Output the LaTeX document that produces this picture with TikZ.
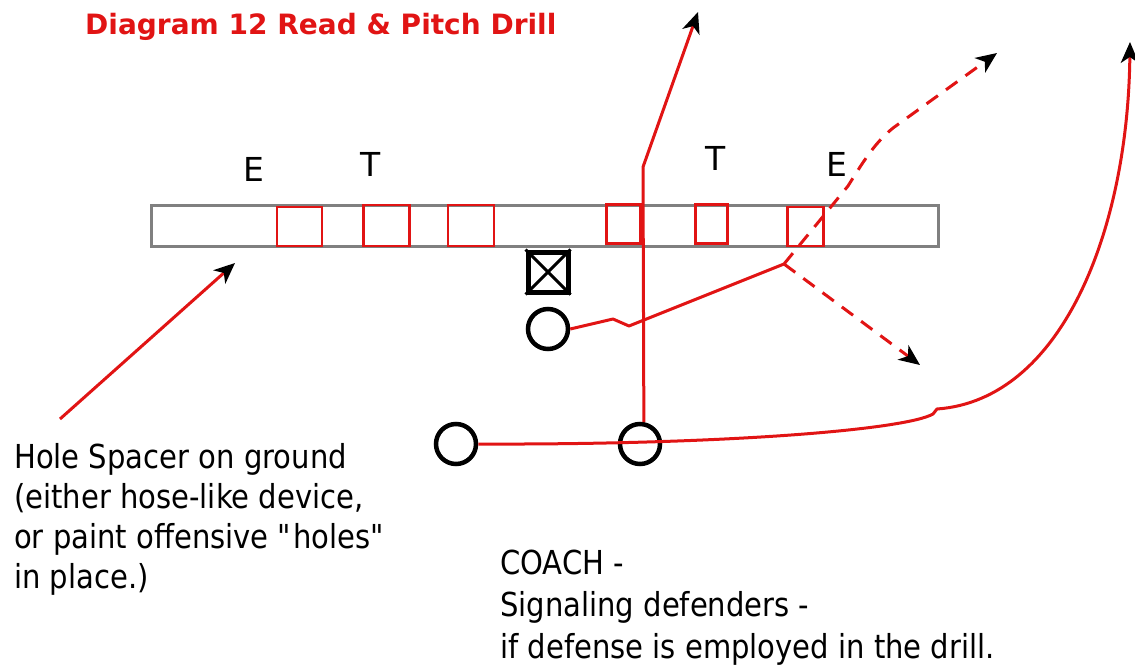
\documentclass[tikz,border=0pt]{standalone}
\usepackage{fontspec}
\setmainfont{DejaVu Sans}
\newfontfamily\notefont[FakeStretch=0.88]{DejaVu Sans}
\usetikzlibrary{arrows.meta}
\definecolor{rd}{RGB}{225,20,20}
\begin{document}
\begin{tikzpicture}[x=1pt,y=-1pt,
  route/.style={draw=rd, line width=3pt, line join=round},
  dashroute/.style={route, dash pattern=on 14pt off 10pt},
  tipped/.style={-{Stealth[black, length=21pt, width=18pt, inset=6pt]}},
  player/.style={circle, draw=black, line width=4.5pt, minimum size=40pt, inner sep=0pt},
  hole/.style={draw=rd, line width=2.8pt, inner sep=0pt, minimum height=39pt},
  lbl/.style={font=\notefont\fontsize{33}{40}\selectfont, inner sep=0pt, anchor=base west},
  ltr/.style={font=\fontsize{33}{40}\selectfont, inner sep=0pt, anchor=base}
]
\useasboundingbox (0,0) rectangle (1135,666);
% title
\node[inner sep=0pt, anchor=base west, text=rd, font=\fontsize{28}{34}\selectfont\bfseries] (title) at (85,35) {Diagram 12 Read \& Pitch Drill};
% hole spacer
\node[draw=gray, line width=3pt, minimum width=787pt, minimum height=41pt, inner sep=0pt] (spacer) at (544.5,225.5) {};
\node[hole, minimum width=45pt] (h1) at (299.5,226.5) {};
\node[hole, minimum width=46pt, minimum height=41pt] (h2) at (386.5,225.5) {};
\node[hole, minimum width=46pt, minimum height=41pt] (h3) at (471,225.5) {};
\node[hole, minimum width=34pt] (h4) at (623.5,224) {};
\node[hole, minimum width=32pt] (h5) at (711.5,224) {};
\node[hole, minimum width=36pt] (h6) at (805.5,226.5) {};
% defender letters
\node[ltr] (e1) at (254,181) {E};
\node[ltr] (t1) at (371,176) {T};
\node[ltr] (t2) at (716,170) {T};
\node[ltr] (e2) at (837,176) {E};
% center
\node[draw=black, line width=5pt, minimum size=40pt, inner sep=0pt] (ctr) at (548,272) {};
\draw[line width=3pt] (ctr.north west) -- (ctr.south east) (ctr.north east) -- (ctr.south west);
% players
\node[player] (c1) at (548,329) {};
\node[player] (c2) at (456,444) {};
\node[player] (c3) at (640,444) {};
% routes
\coordinate (rd1) at (784,264);
\coordinate (upt) at (997,53);
\coordinate (dnt) at (920,365);
\coordinate (vt) at (698,12);
\coordinate (ft) at (1130,42);
\draw[route] (c1.east) -- (613,319) -- (629,326) -- (rd1);
\draw[dashroute, tipped] (rd1) -- (848,186) .. controls (866,157) and (876,142) .. (893,128) -- (upt);
\draw[dashroute, tipped] (rd1) -- (dnt);
\draw[route, tipped] (c3.80) -- (643,167) -- (vt);
\draw[route, tipped] (c2.east) .. controls (720,445) and (905,430) .. (933,414) -- (937,409)
  .. controls (1062,400) and (1128,230) .. (ft);
% hole spacer arrow
\coordinate (hs) at (60,419);
\coordinate (hst) at (235,263);
\draw[route, tipped] (hs) -- (hst);
% notes
\node[lbl] (n1) at (14,468) {Hole Spacer on ground};
\node[lbl] (n2) at (14,508) {(either hose-like device,};
\node[lbl] (n3) at (14,548) {or paint offensive \textquotedbl holes\textquotedbl};
\node[lbl] (n4) at (14,588) {in place.)};
\node[lbl] (m1) at (500,574) {COACH -};
\node[lbl] (m2) at (500,616) {Signaling defenders -};
\node[lbl] (m3) at (500,658) {if defense is employed in the drill.};
\end{tikzpicture}
\end{document}
